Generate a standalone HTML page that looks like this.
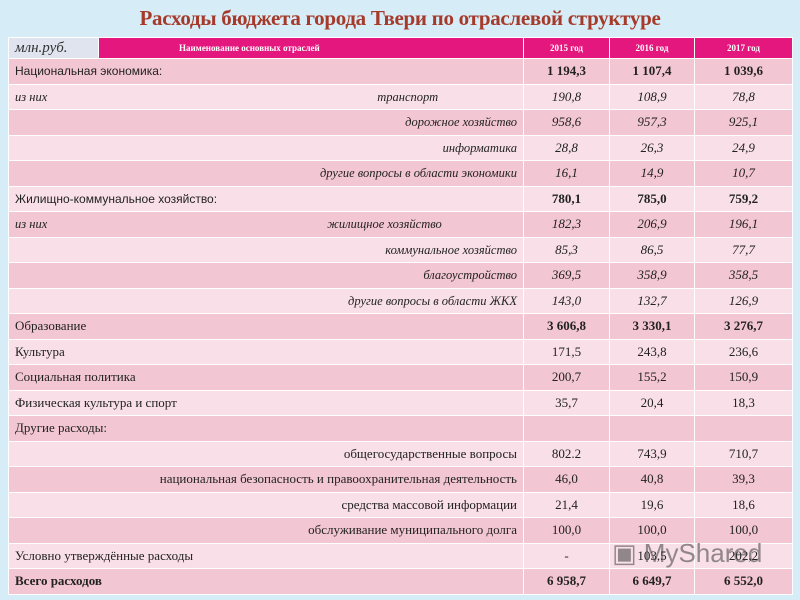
<!DOCTYPE html>
<html><head><meta charset="utf-8"><style>
body{margin:0;width:800px;height:600px;background:#d6ecf7;overflow:hidden;position:relative;font-family:"Liberation Sans","DejaVu Sans",sans-serif}
#title{position:absolute;left:0;top:6px;width:800px;text-align:center;font-family:"Liberation Serif",serif;font-weight:bold;font-size:21px;color:#a63a2a;letter-spacing:-0.3px}
table{position:absolute;left:8px;top:37px;border-collapse:collapse;width:784px;table-layout:fixed}
td{padding:0 6px;height:24.5px;line-height:14px;border:1px solid #fff;font-size:12px;color:#222;white-space:nowrap;overflow:hidden;box-sizing:border-box}
tr{height:25.5px}
tr.h{height:21px}
tr.h td{height:21px;background:#e3177d;color:#fff;font-family:"Liberation Serif",serif;font-weight:bold;font-size:9px;text-align:center}
tr.h td.u{background:#dfe4ee;color:#333;font-style:italic;font-weight:normal;font-size:15px;text-align:left}
tr:nth-child(even) td{background:#f3c6d4}
tr:nth-child(odd):not(.h) td{background:#f9e0e8}
td.n{text-align:center;font-family:"Liberation Serif",serif;font-size:13px;padding:0}
td.b{font-weight:bold}
td.s{font-family:"Liberation Serif",serif;font-size:13px}
.i{font-style:italic;font-family:"Liberation Serif",serif;font-size:12.5px}
.r{text-align:right}
#wm{position:absolute;left:612px;top:538px;font-size:26px;color:rgba(60,60,60,.55)}
</style></head><body>
<div id="title">Расходы бюджета города Твери по отраслевой структуре</div>
<table>
<colgroup><col style="width:90px"><col style="width:425px"><col style="width:86px"><col style="width:85px"><col style="width:98px"></colgroup>
<tr class="h"><td class="u">млн.руб.</td><td style="text-align:left;padding-left:80px">Наименование основных отраслей</td><td>2015 год</td><td>2016 год</td><td>2017 год</td></tr>
<tr><td colspan="2">Национальная экономика:</td><td class="n b">1 194,3</td><td class="n b">1 107,4</td><td class="n b">1 039,6</td></tr>
<tr><td colspan="2" class="i">из них<span style="margin-left:330px">транспорт</span></td><td class="n i">190,8</td><td class="n i">108,9</td><td class="n i">78,8</td></tr>
<tr><td colspan="2" class="i r">дорожное хозяйство</td><td class="n i">958,6</td><td class="n i">957,3</td><td class="n i">925,1</td></tr>
<tr><td colspan="2" class="i r">информатика</td><td class="n i">28,8</td><td class="n i">26,3</td><td class="n i">24,9</td></tr>
<tr><td colspan="2" class="i r">другие вопросы  в  области  экономики</td><td class="n i">16,1</td><td class="n i">14,9</td><td class="n i">10,7</td></tr>
<tr><td colspan="2">Жилищно-коммунальное хозяйство:</td><td class="n b">780,1</td><td class="n b">785,0</td><td class="n b">759,2</td></tr>
<tr><td colspan="2" class="i">из них<span style="margin-left:280px">жилищное хозяйство</span></td><td class="n i">182,3</td><td class="n i">206,9</td><td class="n i">196,1</td></tr>
<tr><td colspan="2" class="i r">коммунальное  хозяйство</td><td class="n i">85,3</td><td class="n i">86,5</td><td class="n i">77,7</td></tr>
<tr><td colspan="2" class="i r">благоустройство</td><td class="n i">369,5</td><td class="n i">358,9</td><td class="n i">358,5</td></tr>
<tr><td colspan="2" class="i r">другие вопросы в области ЖКХ</td><td class="n i">143,0</td><td class="n i">132,7</td><td class="n i">126,9</td></tr>
<tr><td colspan="2" class="s">Образование</td><td class="n b">3 606,8</td><td class="n b">3 330,1</td><td class="n b">3 276,7</td></tr>
<tr><td colspan="2" class="s">Культура</td><td class="n">171,5</td><td class="n">243,8</td><td class="n">236,6</td></tr>
<tr><td colspan="2" class="s">Социальная политика</td><td class="n">200,7</td><td class="n">155,2</td><td class="n">150,9</td></tr>
<tr><td colspan="2" class="s">Физическая культура и спорт</td><td class="n">35,7</td><td class="n">20,4</td><td class="n">18,3</td></tr>
<tr><td colspan="2" class="s">Другие расходы:</td><td class="n"></td><td class="n"></td><td class="n"></td></tr>
<tr><td colspan="2" class="s r">общегосударственные вопросы</td><td class="n">802.2</td><td class="n">743,9</td><td class="n">710,7</td></tr>
<tr><td colspan="2" class="s r">национальная безопасность и правоохранительная деятельность</td><td class="n">46,0</td><td class="n">40,8</td><td class="n">39,3</td></tr>
<tr><td colspan="2" class="s r">средства массовой информации</td><td class="n">21,4</td><td class="n">19,6</td><td class="n">18,6</td></tr>
<tr><td colspan="2" class="s r">обслуживание муниципального долга</td><td class="n">100,0</td><td class="n">100,0</td><td class="n">100,0</td></tr>
<tr><td colspan="2" class="s">Условно утверждённые расходы</td><td class="n">-</td><td class="n">103,5</td><td class="n">202,2</td></tr>
<tr><td colspan="2" class="s b">Всего расходов</td><td class="n b">6 958,7</td><td class="n b">6 649,7</td><td class="n b">6 552,0</td></tr>
</table>
<div id="wm">▣ MyShared</div>
</body></html>
